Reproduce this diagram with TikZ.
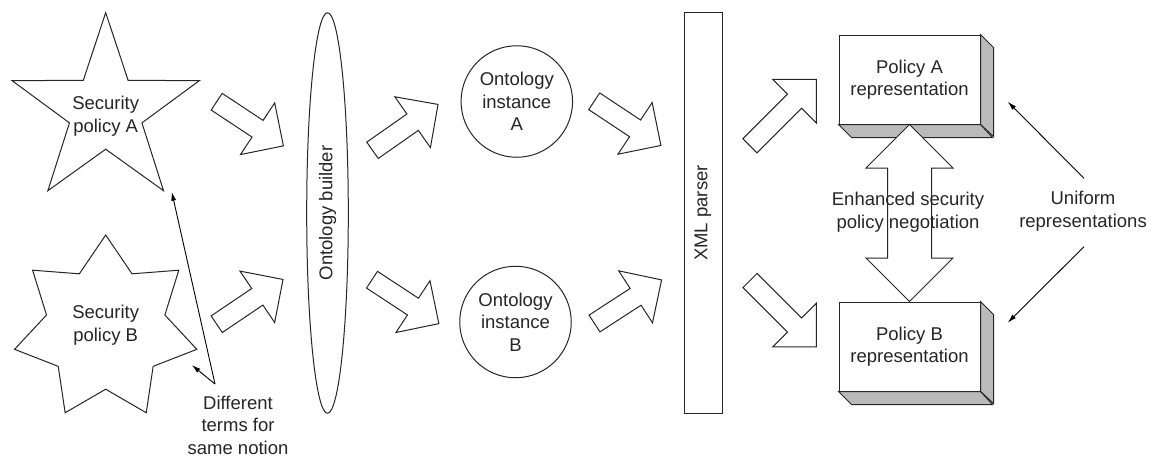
\documentclass[tikz,border=0pt]{standalone}
\usepackage{fontspec}
\setmainfont{Liberation Sans}
\usetikzlibrary{arrows.meta,shapes.geometric}
\newcommand{\blockarr}[3]{%
  \draw[blk, shift={#1}, rotate=#2] (0,10) -- ({#3-31},10) -- ({#3-31},31) -- (#3,0)
    -- ({#3-31},-31) -- ({#3-31},-10) -- (0,-10) -- cycle;}
\begin{document}
\begin{tikzpicture}[x=1pt,y=-1pt,
  every node/.style={font=\fontsize{18.5}{22.5}\selectfont, align=center, inner sep=0pt, text=black!85},
  shp/.style={draw=black!85, line width=1pt, fill=white, line join=miter},
  blk/.style={draw=black!85, line width=1pt, fill=white, line join=miter},
  thinarr/.style={draw=black, line width=0.9pt, -{Latex[length=9pt,width=5pt]}},
  face/.style={draw=black!85, line width=1pt, fill=black!27, line join=miter}]
\useasboundingbox (0,0) rectangle (1151,458);

% Star A (5 points)
\draw[shp, shift={(105.7,111.1)}] (-90:98.4) -- (-54:38.1) -- (-18:98.4) -- (18:38.1)
  -- (54:98.4) -- (90:38.1) -- (126:98.4) -- (162:38.1) -- (198:98.4) -- (234:38.1) -- cycle;
\node (secA) at (105.7,116) {Security\\policy A};

% Star B (7 points)
\draw[shp, shift={(105.7,328.5)}] (-90:93.5) -- (-64.29:60.7) -- (-38.57:93.5) -- (-12.86:60.7)
  -- (12.86:93.5) -- (38.57:60.7) -- (64.29:93.5) -- (90:60.7) -- (115.71:93.5)
  -- (141.43:60.7) -- (167.14:93.5) -- (192.86:60.7) -- (218.57:93.5) -- (244.29:60.7) -- cycle;
\node (secB) at (105.7,325) {Security\\policy B};

% Different terms
\node (diff) at (238,425) {Different\\terms for\\same notion};
\coordinate (dstart) at (215,384);
\coordinate (tipA) at (171.7,191.7);
\coordinate (tipB) at (191.7,365);
\draw[thinarr] (dstart) -- (tipA);
\draw[thinarr] (dstart) -- (tipB);

% Ontology builder
\node[shp, ellipse, minimum width=400.6, minimum height=41.6, rotate=90] (builder) at (327.5,213) {Ontology builder};

% Ontology instances
\node[shp, circle, minimum size=111.5] (instA) at (516.8,101.5) {Ontology\\instance\\A};
\node[shp, circle, minimum size=111.5] (instB) at (515.5,322) {Ontology\\instance\\B};

% XML parser
\node[shp, rectangle, minimum width=400.6, minimum height=38, rotate=90] (xml) at (703,213) {XML parser};

% Policy boxes
\node[shp, minimum width=141, minimum height=89] (polA) at (909.5,79.5) {Policy A\\representation};
\draw[face] (polA.north east) -- ++(13,13) -- ++(0,89) -- (polA.south east) -- cycle;
\draw[face] (polA.south west) -- ++(13,13) -- ++(141,0) -- (polA.south east) -- cycle;
\node[shp, minimum width=141, minimum height=89] (polB) at (909.5,346.5) {Policy B\\representation};
\draw[face] (polB.north east) -- ++(13,13) -- ++(0,89) -- (polB.south east) -- cycle;
\draw[face] (polB.south west) -- ++(13,13) -- ++(141,0) -- (polB.south east) -- cycle;

% Double block arrow
\draw[blk] (polA.south) -- ++(43.5,43.5) -- ++(-21.5,0) -- ++(0,90) -- ++(21.5,0) -- (polB.north)
  -- ++(-43.5,-43.5) -- ++(21.5,0) -- ++(0,-90) -- ++(-21.5,0) -- cycle;
\node (neg) at (908,212) {Enhanced security\\policy negotiation};

% Uniform representations
\node (unif) at (1083,211) {Uniform\\representations};
\coordinate (u1) at (1084,178.3);
\coordinate (u2) at (1084,246.7);
\coordinate (uA) at (1007.7,101.7);
\coordinate (uB) at (1007.7,322.7);
\draw[thinarr] (u1) -- (uA);
\draw[thinarr] (u2) -- (uB);

% Block arrows
\blockarr{(216.7,101.7)}{-33.5}{80}
\blockarr{(216.7,324.2)}{34}{80}
\blockarr{(372.5,150.3)}{35}{80}
\blockarr{(372,279.7)}{-33.3}{80}
\blockarr{(594.2,101.3)}{-33.5}{80}
\blockarr{(594.5,323.5)}{33}{80}
\blockarr{(750,145.8)}{45}{94}
\blockarr{(750,280.5)}{-45}{94}
\end{tikzpicture}
\end{document}
